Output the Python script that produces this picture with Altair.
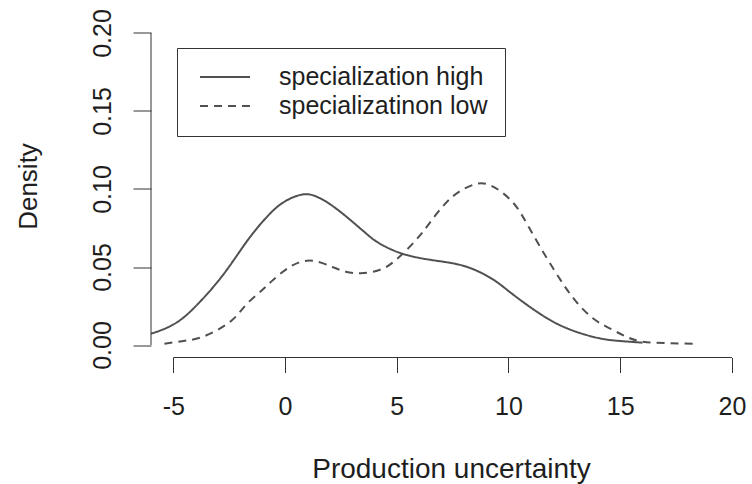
import altair as alt
import pandas as pd

# ---- data ----
series_names = ["specialization high", "specializatinon low"]

high_x = [-6.2, -6.04, -5.44, -4.69, -3.95, -3.2, -2.45, -1.61, -0.87, -0.12, 0.85, 1.5,
          1.83, 2.57, 3.62, 4.22, 5.19, 6.46, 7.5, 8.4, 9.3, 10.04, 10.94, 11.99, 13.03,
          14.08, 14.98, 16.0]
high_y = [0.0063, 0.0071, 0.0101, 0.0160, 0.0256, 0.0374, 0.0513, 0.0684, 0.0812, 0.0910,
          0.0966, 0.0945, 0.0920, 0.0843, 0.0716, 0.0652, 0.0588, 0.0547, 0.0524,
          0.0487, 0.0421, 0.0342, 0.0246, 0.0150, 0.0085, 0.0043, 0.0026, 0.0015]

low_x = [-5.4, -4.54, -3.8, -3.05, -2.45, -2.06, -1.61, -1.02, -0.5, 0.33, 1.22, 2.12,
         2.72, 3.4, 4.22, 4.96, 5.86, 6.46, 7.13, 7.8, 8.55, 9.15, 9.74, 10.35, 10.94,
         11.72, 12.43, 13.03, 13.78, 14.53, 15.28, 16.03, 17.07, 18.26]
low_y = [0.0008, 0.0026, 0.0047, 0.0095, 0.0150, 0.0205, 0.0278, 0.0353, 0.0422, 0.0510,
         0.0540, 0.0500, 0.0470, 0.0460, 0.0481, 0.0545, 0.0673, 0.0780, 0.0900, 0.0983,
         0.1032, 0.1026, 0.0975, 0.0887, 0.0748, 0.0556, 0.0395, 0.0278, 0.0171, 0.0107,
         0.0053, 0.0021, 0.0012, 0.0008]

x_ticks = [-5, 0, 5, 10, 15, 20]
y_ticks = [0.0, 0.05, 0.10, 0.15, 0.20]

df = pd.concat([
    pd.DataFrame({"x": high_x, "y": high_y, "series": series_names[0], "order": range(len(high_x))}),
    pd.DataFrame({"x": low_x, "y": low_y, "series": series_names[1], "order": range(len(low_x))}),
], ignore_index=True)

xaxis_df = pd.DataFrame({"x": [x_ticks[0]], "x2": [x_ticks[-1]]})
yaxis_df = pd.DataFrame({"y": [y_ticks[0]], "y2": [y_ticks[-1]]})

FONT = "Liberation Sans"
TXT = "#1e1e1e"
AX = "#333333"
LINE = "#505050"
W, H = 601, 337

xscale = alt.Scale(domain=[-6, 20.9], nice=False, zero=False)
yscale = alt.Scale(domain=[-0.008, 0.208], nice=False, zero=False)

lines = alt.Chart(df).mark_line(clip=True, strokeWidth=2, color=LINE, interpolate="natural").encode(
    x=alt.X("x:Q", scale=xscale,
            axis=alt.Axis(values=x_ticks, labelExpr="datum.value + ''", domain=False, grid=False,
                          tickSize=15, tickColor=AX,
                          tickWidth=1, labelFontSize=25, labelFont=FONT, labelColor=TXT,
                          labelPadding=22, labelFlush=False, labelOverlap=False,
                          title="Production uncertainty", titleFont=FONT, titleFontSize=28,
                          titleFontWeight="normal", titleColor=TXT, titleX=300, titleY=119.5,
                          titleBaseline="alphabetic", titleAlign="center")),
    y=alt.Y("y:Q", scale=yscale,
            axis=alt.Axis(values=y_ticks, format=".2f", domain=False, grid=False, tickSize=18,
                          tickColor=AX, tickWidth=1, labelFontSize=25, labelFont=FONT,
                          labelColor=TXT, labelAngle=270, labelAlign="center",
                          labelBaseline="alphabetic", labelPadding=23, labelFlush=False,
                          labelOverlap=False,
                          title="Density", titleFont=FONT, titleFontSize=26,
                          titleFontWeight="normal", titleColor=TXT, titleAngle=270,
                          titleX=-115, titleY=165.5, titleBaseline="alphabetic",
                          titleAlign="center")),
    strokeDash=alt.StrokeDash(
        "series:N",
        scale=alt.Scale(domain=series_names, range=[[1, 0], [8, 6]]),
        legend=alt.Legend(title=None, orient="none", legendX=26, legendY=27.5,
                          symbolType="stroke", symbolSize=2500, symbolStrokeWidth=2,
                          symbolStrokeColor=LINE, labelFontSize=25, labelFont=FONT,
                          labelColor=TXT, strokeColor=AX, padding=17, clipHeight=24,
                          rowPadding=4, symbolOffset=5, labelOffset=28,
                          labelBaseline="middle", labelLimit=400)),
    order="order:Q",
)

xline = alt.Chart(xaxis_df).mark_rule(color=AX, strokeWidth=1).encode(
    x=alt.X("x:Q", scale=xscale), x2="x2:Q", y=alt.value(H))
yline = alt.Chart(yaxis_df).mark_rule(color=AX, strokeWidth=1).encode(
    y=alt.Y("y:Q", scale=yscale), y2="y2:Q", x=alt.value(0))

chart = alt.layer(lines, xline, yline).properties(
    width=W, height=H,
    autosize="none",
    padding={"left": 151, "top": 20.5, "right": 0, "bottom": 126.5},
    background="white",
).configure_view(stroke=None)

chart.save("out.html", embed_options={"renderer": "svg", "actions": False})
